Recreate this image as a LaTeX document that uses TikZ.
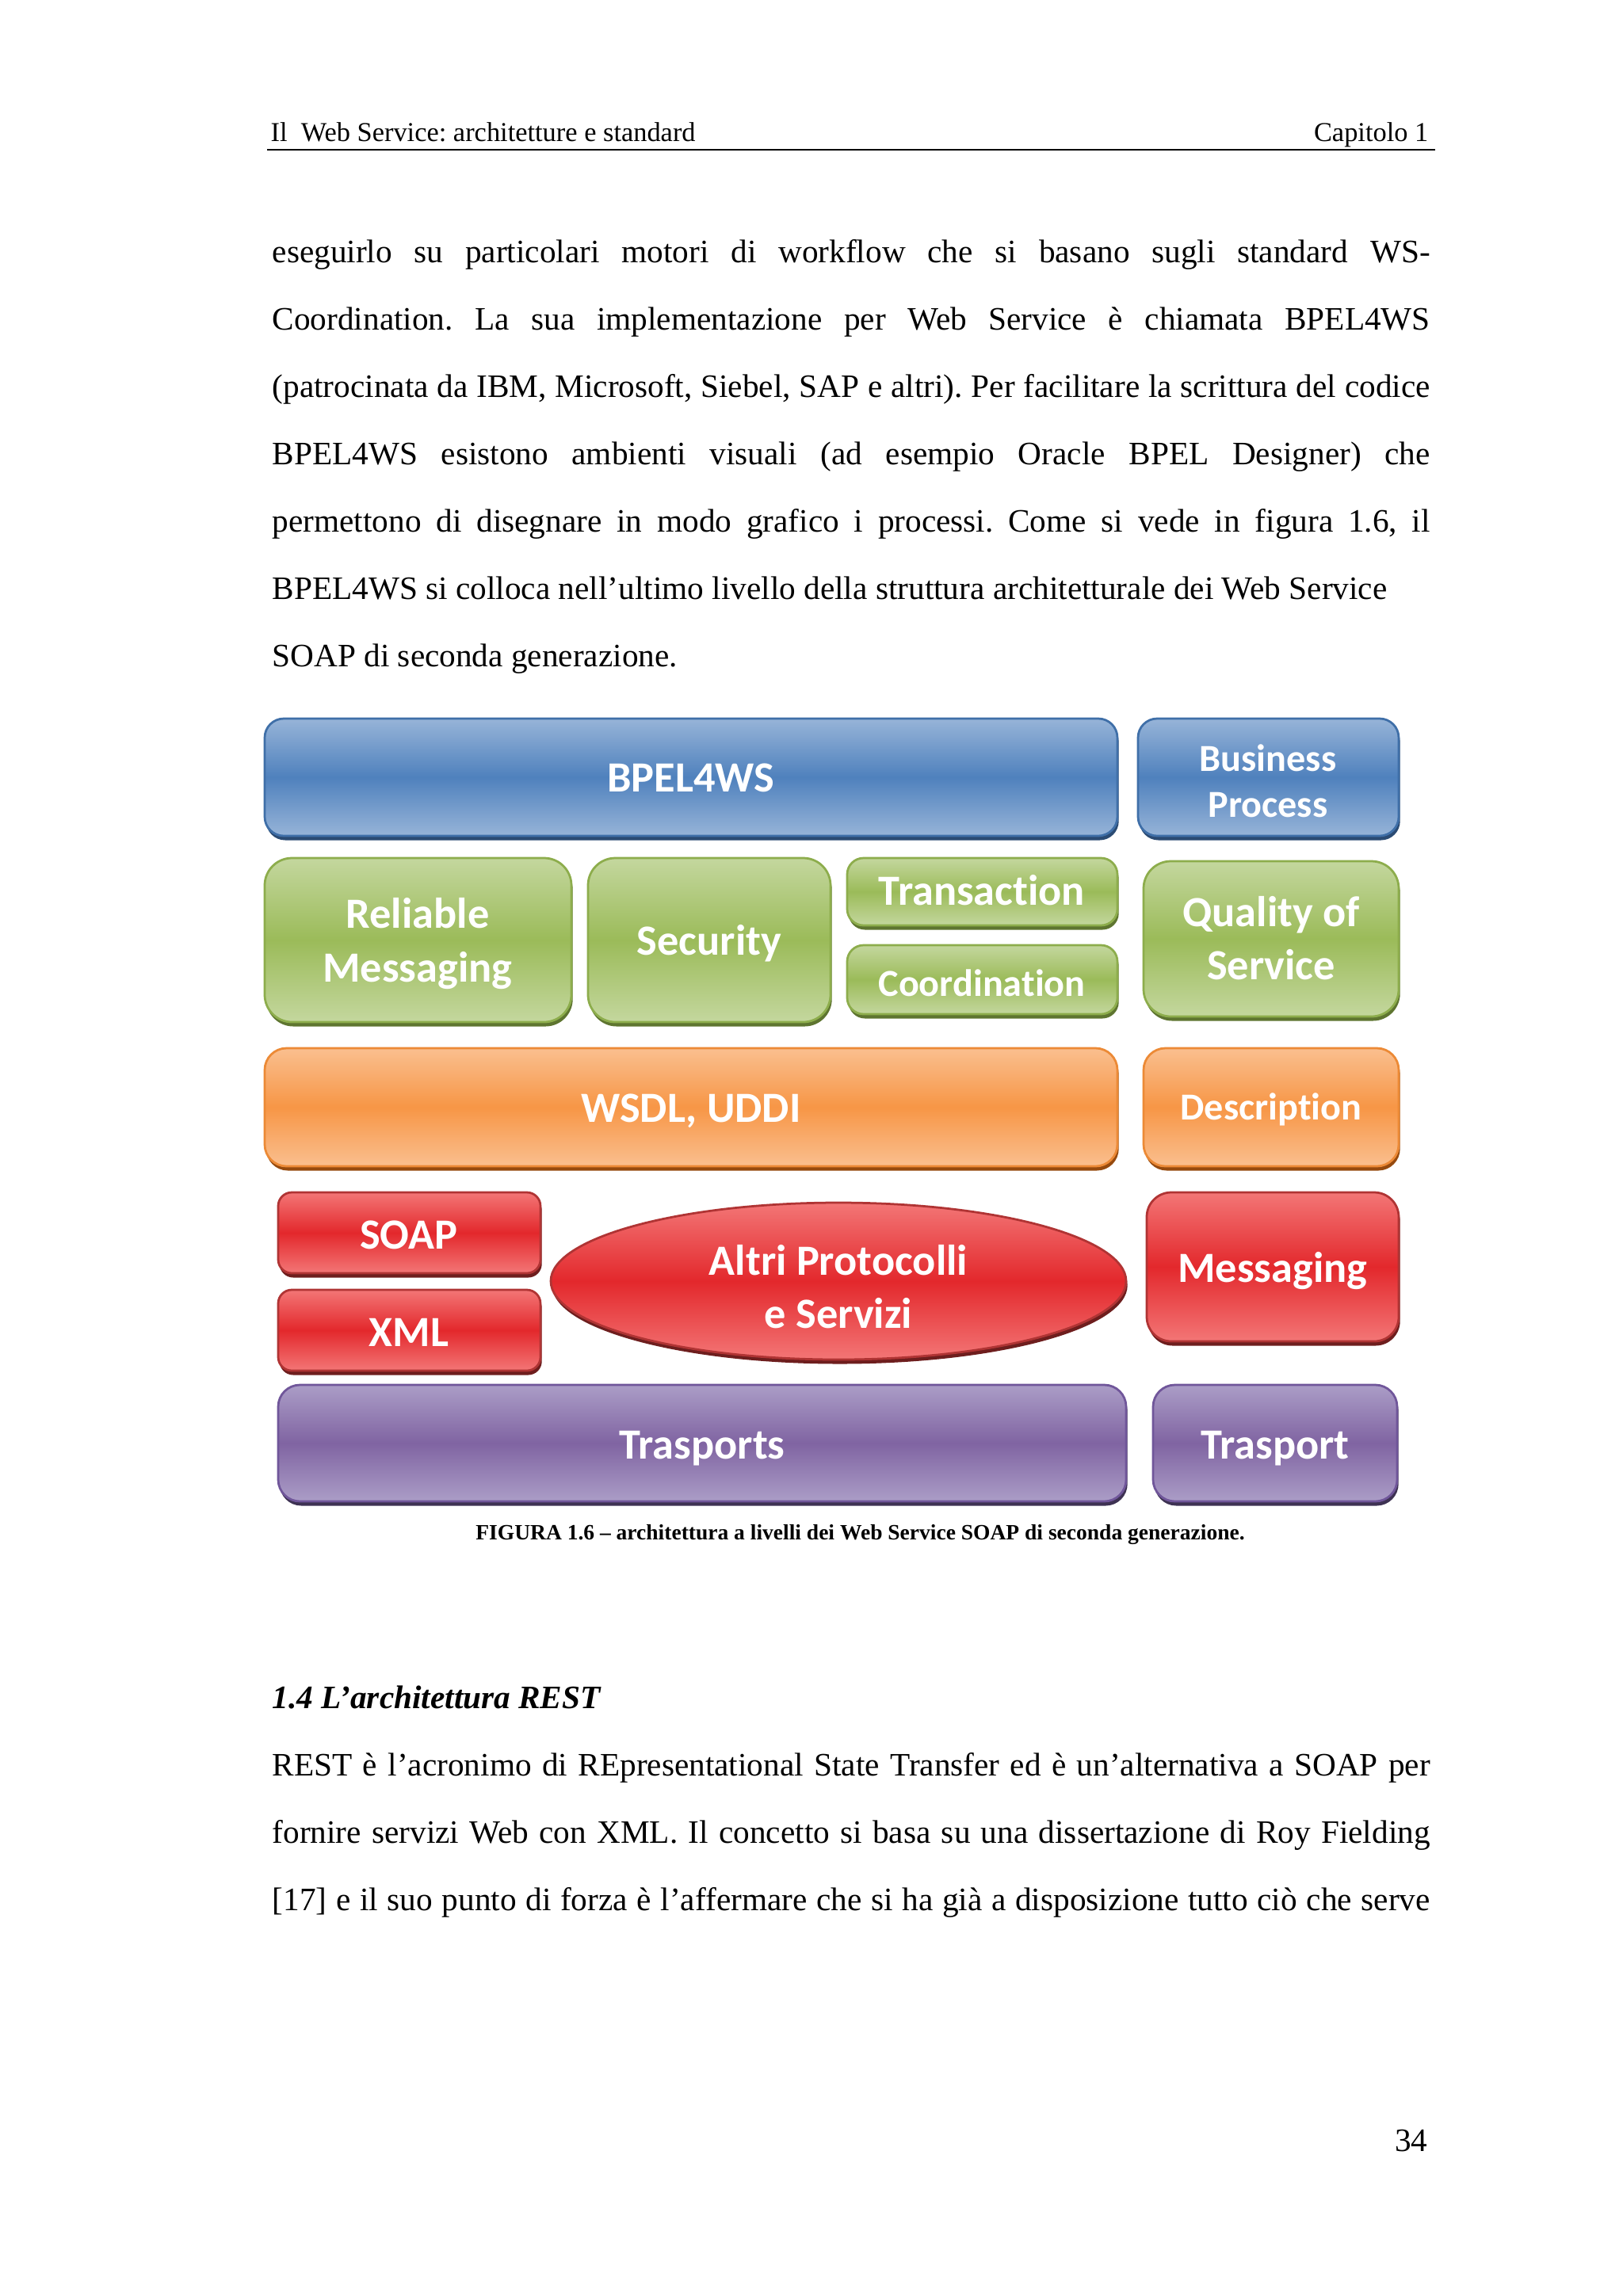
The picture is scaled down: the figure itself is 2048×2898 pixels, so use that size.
\documentclass[tikz,border=0pt]{standalone}
\usepackage{fontspec}
\setmainfont{Liberation Serif}
\newfontfamily\boxfont{Carlito}[Ligatures=NoCommon]
\usetikzlibrary{shapes.geometric,shadows}
\frenchspacing
\definecolor{bluL}{HTML}{97B4D8}\definecolor{bluM}{HTML}{4F81BD}\definecolor{bluD}{HTML}{3F6FA8}\definecolor{bluS}{HTML}{2B4B73}
\definecolor{grnL}{HTML}{C4D79E}\definecolor{grnM}{HTML}{9BBB59}\definecolor{grnD}{HTML}{8DAD4C}\definecolor{grnS}{HTML}{5E7530}
\definecolor{orgL}{HTML}{FABF8F}\definecolor{orgM}{HTML}{F79646}\definecolor{orgD}{HTML}{EC8A36}\definecolor{orgS}{HTML}{964A0E}
\definecolor{redL}{HTML}{F37676}\definecolor{redM}{HTML}{E3282C}\definecolor{redD}{HTML}{B03434}\definecolor{redS}{HTML}{6E1E1E}
\definecolor{purL}{HTML}{AB9DC7}\definecolor{purM}{HTML}{8064A2}\definecolor{purD}{HTML}{70569A}\definecolor{purS}{HTML}{3E3253}
\tikzset{
  layer/.style n args={4}{top color=#1, bottom color=#1, middle color=#2, draw=#3, line width=0.8pt,
     general shadow={fill=#4, shadow xshift=0.5pt, shadow yshift=-1.6pt}},
  bluebox/.style={layer={bluL}{bluM}{bluD}{bluS}},
  greenbox/.style={layer={grnL}{grnM}{grnD}{grnS}},
  orangebox/.style={layer={orgL}{orgM}{orgD}{orgS}},
  redbox/.style={layer={redL}{redM}{redD}{redS}},
  purplebox/.style={layer={purL}{purM}{purD}{purS}},
  lbl/.style={text=white, inner sep=0pt, anchor=base, font=\boxfont\bfseries\fontsize{15.8}{19}\selectfont},
  lbls/.style={lbl, font=\boxfont\bfseries\fontsize{14}{17}\selectfont},
  txt/.style={inner sep=0pt, anchor=base west, font=\fontsize{12}{14}\selectfont},
  hdr/.style={inner sep=0pt, font=\fontsize{10}{12}\selectfont},
}
\newcommand\jline[1]{\makebox[424.7pt][s]{#1}}
\begin{document}
\begin{tikzpicture}[x=0.2907pt, y=-0.2907pt]
\useasboundingbox[fill=white] (0,0) rectangle (2048,2898);
% header
\node[hdr, anchor=base west] (hl) at (341,178) {Il\ \ Web Service: architetture e standard};
\node[hdr, anchor=base east] (hr) at (1803,178) {Capitolo 1};
\coordinate (rl) at (337,189); \coordinate (rr) at (1811,189);
\draw[line width=0.8pt] (rl) -- (rr);
% body text top
\node[txt] (t1) at (343,331) {\jline{eseguirlo su particolari motori di workflow che si basano sugli standard WS-}};
\node[txt] (t2) at (343,416) {\jline{Coordination. La sua implementazione per Web Service è chiamata BPEL4WS}};
\node[txt] (t3) at (343,501) {\jline{(patrocinata da IBM, Microsoft, Siebel, SAP e altri). Per facilitare la scrittura del codice}};
\node[txt] (t4) at (343,586) {\jline{BPEL4WS esistono ambienti visuali (ad esempio Oracle BPEL Designer) che}};
\node[txt] (t5) at (343,671) {\jline{permettono di disegnare in modo grafico i processi. Come si vede in figura 1.6, il}};
\node[txt] (t6) at (343,756) {BPEL4WS si colloca nell’ultimo livello della struttura architetturale dei Web Service};
\node[txt] (t7) at (343,841) {SOAP di seconda generazione.};
% diagram row 1
\path[bluebox, rounded corners=7pt] (334,907) rectangle (1410,1055);
\path[bluebox, rounded corners=7pt] (1436,907) rectangle (1765,1055);
\node[lbl] (bpel) at (872,999) {BPEL4WS};
\node[lbls] (bp1) at (1600,973) {Business};
\node[lbls] (bp2) at (1600,1031) {Process};
% row 2
\path[greenbox, rounded corners=10pt] (334,1083) rectangle (721,1290);
\path[greenbox, rounded corners=10pt] (742,1083) rectangle (1048,1290);
\path[greenbox, rounded corners=6pt] (1069,1083) rectangle (1410,1168);
\path[greenbox, rounded corners=6pt] (1069,1193) rectangle (1410,1280);
\path[greenbox, rounded corners=10pt] (1443,1087) rectangle (1765,1283);
\node[lbl] (rm1) at (527,1171) {Reliable};
\node[lbl] (rm2) at (527,1239) {Messaging};
\node[lbl] (sec) at (895,1205) {Security};
\node[lbl] (tra) at (1239,1142) {Transaction};
\node[lbls] (coo) at (1239,1257) {Coordination};
\node[lbl] (qos1) at (1604,1169) {Quality of};
\node[lbl] (qos2) at (1604,1236) {Service};
% row 3
\path[orangebox, rounded corners=8pt] (334,1323) rectangle (1410,1472);
\path[orangebox, rounded corners=8pt] (1443,1323) rectangle (1765,1472);
\node[lbl] (wsdl) at (872,1416) {WSDL, UDDI};
\node[lbls] (desc) at (1604,1413) {Description};
% row 4
\path[redbox, rounded corners=5pt] (351,1505) rectangle (682,1607);
\path[redbox, rounded corners=5pt] (351,1628) rectangle (682,1730);
\path[redbox] (1058,1617) ellipse [x radius=363, y radius=99];
\path[redbox, rounded corners=9pt] (1447,1505) rectangle (1765,1693);
\node[lbl] (soap) at (516,1576) {SOAP};
\node[lbl] (xml) at (516,1699) {XML};
\node[lbl] (alt1) at (1058,1609) {Altri Protocolli};
\node[lbl] (alt2) at (1058,1676) {e Servizi};
\node[lbl] (msg) at (1606,1618) {Messaging};
% row 5
\path[purplebox, rounded corners=8pt] (351,1748) rectangle (1421,1895);
\path[purplebox, rounded corners=8pt] (1455,1748) rectangle (1763,1895);
\node[lbl] (trs) at (886,1841) {Trasports};
\node[lbl] (tr) at (1609,1841) {Trasport};
% caption
\node[inner sep=0pt, anchor=base, font=\fontsize{8}{10}\selectfont\bfseries] (cap) at (1085.5,1943) {FIGURA 1.6 – architettura a livelli dei Web Service SOAP di seconda generazione.};
% section
\node[txt, font=\fontsize{12}{14}\selectfont\bfseries\itshape] (sec14) at (343,2156) {1.4 L’architettura REST};
\node[txt] (b1) at (343,2241) {\jline{REST è l’acronimo di REpresentational State Transfer ed è un’alternativa a SOAP per}};
\node[txt] (b2) at (343,2326) {\jline{fornire servizi Web con XML. Il concetto si basa su una dissertazione di Roy Fielding}};
\node[txt] (b3) at (343,2411) {\jline{[17] e il suo punto di forza è l’affermare che si ha già a disposizione tutto ciò che serve}};
\node[inner sep=0pt, anchor=base east, font=\fontsize{12}{14}\selectfont] (pg) at (1802,2715) {34};
\end{tikzpicture}
\end{document}
